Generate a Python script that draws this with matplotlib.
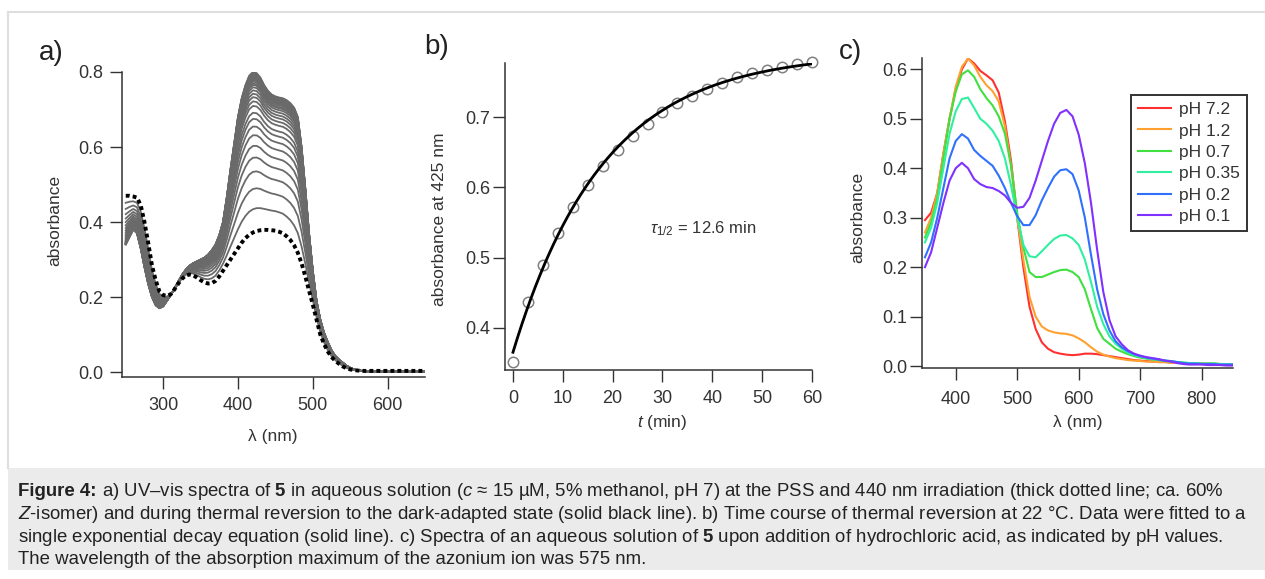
import numpy as np
import matplotlib
matplotlib.use('Agg')
import matplotlib.pyplot as plt
from matplotlib.lines import Line2D
from matplotlib.patches import Rectangle
from matplotlib.ticker import FormatStrFormatter

plt.rcParams['font.family'] = ['Liberation Sans', 'DejaVu Sans']
plt.rcParams['mathtext.fontset'] = 'custom'
plt.rcParams['mathtext.rm'] = 'Liberation Sans'
plt.rcParams['mathtext.it'] = 'Liberation Sans:italic'
plt.rcParams['mathtext.bf'] = 'Liberation Sans:bold'

# ---- panel a: spectra during thermal reversion ----
wl_a = np.arange(250, 651, 5)
# dark-adapted (final) spectrum, top grey curve
spec_final = [0.34, 0.36, 0.38, 0.37, 0.33, 0.28, 0.235, 0.20, 0.178, 0.17,
              0.175, 0.19, 0.205, 0.222, 0.24, 0.258, 0.272, 0.283, 0.29, 0.295,
              0.30, 0.305, 0.313, 0.325, 0.34, 0.365, 0.40, 0.465, 0.54, 0.61,
              0.68, 0.73, 0.765, 0.79, 0.80, 0.797, 0.785, 0.765, 0.75, 0.74,
              0.735, 0.732, 0.73, 0.725, 0.717, 0.705, 0.68, 0.60, 0.49, 0.37,
              0.27, 0.19, 0.14, 0.105, 0.08, 0.058, 0.043, 0.033, 0.025, 0.017,
              0.011, 0.007, 0.004, 0.003, 0.002, 0.002, 0.001, 0.001, 0.001, 0.001,
              0.001, 0.001, 0.001, 0.001, 0.001, 0.001, 0.001, 0.001, 0.001, 0.001,
              0.001]
# PSS after 440 nm irradiation (dotted)
spec_pss = [0.47, 0.47, 0.468, 0.465, 0.445, 0.40, 0.345, 0.285, 0.245, 0.215,
            0.205, 0.203, 0.207, 0.22, 0.235, 0.248, 0.257, 0.26, 0.258, 0.252,
            0.245, 0.239, 0.236, 0.237, 0.243, 0.255, 0.27, 0.285, 0.30, 0.315,
            0.33, 0.345, 0.357, 0.366, 0.372, 0.376, 0.378, 0.379, 0.379, 0.378,
            0.377, 0.374, 0.37, 0.362, 0.352, 0.338, 0.318, 0.29, 0.255, 0.217,
            0.18, 0.14, 0.10, 0.075, 0.055, 0.04, 0.03, 0.022, 0.015, 0.01,
            0.007, 0.005, 0.004, 0.003, 0.003, 0.003, 0.003, 0.003, 0.003, 0.003,
            0.003, 0.003, 0.003, 0.003, 0.003, 0.003, 0.003, 0.003, 0.003, 0.003,
            0.003]
# absorbance at 425 nm of each recorded spectrum
a_scans_425 = [0.437, 0.49, 0.535, 0.572, 0.603, 0.631, 0.654, 0.674, 0.69, 0.708,
               0.72, 0.731, 0.74, 0.749, 0.757, 0.763, 0.767, 0.772, 0.776, 0.779,
               0.782, 0.784, 0.786, 0.788, 0.790, 0.791, 0.793, 0.794, 0.795, 0.797]

# ---- panel b: kinetics ----
t_min = [0, 3, 6, 9, 12, 15, 18, 21, 24, 27, 30, 33, 36, 39, 42, 45, 48, 51, 54, 57, 60]
abs_425 = [0.351, 0.437, 0.490, 0.535, 0.572, 0.603, 0.631, 0.654, 0.674, 0.690,
           0.708, 0.720, 0.731, 0.740, 0.749, 0.757, 0.763, 0.767, 0.772, 0.776, 0.779]
fit_a0, fit_ainf, t_half = 0.365, 0.792, 12.6

# ---- panel c: pH series ----
wl_c = np.arange(350, 851, 10)
ph_labels = ['pH 7.2', 'pH 1.2', 'pH 0.7', 'pH 0.35', 'pH 0.2', 'pH 0.1']
ph_colors = ['#ff3030', '#ffa030', '#40e040', '#30f0a0', '#3070ff', '#8030ff']
spec_ph = [
    [0.295, 0.31, 0.35, 0.43, 0.50, 0.56, 0.60, 0.622, 0.612, 0.597,
     0.588, 0.578, 0.553, 0.495, 0.415, 0.30, 0.20, 0.12, 0.075, 0.048,
     0.035, 0.028, 0.025, 0.023, 0.022, 0.023, 0.025, 0.025, 0.024, 0.022,
     0.02, 0.018, 0.016, 0.014, 0.012, 0.011, 0.01, 0.009, 0.008, 0.008,
     0.007, 0.007, 0.006, 0.006, 0.005, 0.005, 0.005, 0.004, 0.004, 0.004, 0.004],
    [0.27, 0.30, 0.35, 0.43, 0.50, 0.565, 0.605, 0.622, 0.608, 0.585,
     0.568, 0.556, 0.535, 0.485, 0.405, 0.30, 0.215, 0.14, 0.10, 0.08,
     0.072, 0.068, 0.066, 0.065, 0.062, 0.056, 0.048, 0.038, 0.029, 0.023,
     0.019, 0.016, 0.014, 0.012, 0.011, 0.01, 0.009, 0.009, 0.008, 0.008,
     0.007, 0.007, 0.006, 0.006, 0.005, 0.005, 0.005, 0.005, 0.004, 0.004, 0.004],
    [0.26, 0.29, 0.34, 0.42, 0.50, 0.555, 0.59, 0.598, 0.585, 0.56,
     0.542, 0.527, 0.505, 0.47, 0.405, 0.31, 0.24, 0.19, 0.18, 0.18,
     0.185, 0.19, 0.194, 0.195, 0.19, 0.18, 0.155, 0.115, 0.077, 0.055,
     0.045, 0.035, 0.029, 0.024, 0.02, 0.017, 0.015, 0.013, 0.012, 0.01,
     0.009, 0.008, 0.007, 0.006, 0.006, 0.005, 0.005, 0.005, 0.004, 0.004, 0.004],
    [0.25, 0.28, 0.33, 0.40, 0.47, 0.515, 0.54, 0.543, 0.522, 0.50,
     0.49, 0.476, 0.455, 0.42, 0.365, 0.30, 0.245, 0.222, 0.22, 0.232,
     0.245, 0.257, 0.264, 0.265, 0.258, 0.245, 0.215, 0.17, 0.12, 0.085,
     0.06, 0.045, 0.035, 0.027, 0.022, 0.019, 0.016, 0.014, 0.013, 0.011,
     0.01, 0.008, 0.007, 0.006, 0.006, 0.005, 0.005, 0.005, 0.004, 0.004, 0.004],
    [0.22, 0.25, 0.30, 0.36, 0.42, 0.455, 0.469, 0.46, 0.437, 0.425,
     0.415, 0.405, 0.385, 0.36, 0.33, 0.303, 0.285, 0.285, 0.305, 0.335,
     0.36, 0.383, 0.396, 0.398, 0.388, 0.355, 0.30, 0.225, 0.155, 0.105,
     0.072, 0.05, 0.038, 0.03, 0.024, 0.02, 0.017, 0.015, 0.013, 0.011,
     0.01, 0.008, 0.006, 0.005, 0.005, 0.004, 0.004, 0.004, 0.003, 0.003, 0.003],
    [0.20, 0.23, 0.28, 0.33, 0.375, 0.40, 0.411, 0.40, 0.378, 0.368,
     0.362, 0.36, 0.354, 0.345, 0.33, 0.32, 0.322, 0.34, 0.375, 0.415,
     0.455, 0.49, 0.512, 0.518, 0.505, 0.468, 0.41, 0.33, 0.235, 0.15,
     0.093, 0.06, 0.044, 0.032, 0.025, 0.021, 0.018, 0.016, 0.014, 0.011,
     0.009, 0.006, 0.004, 0.003, 0.003, 0.003, 0.002, 0.002, 0.002, 0.001, 0.001],
]

W, H = 1265, 579
AX = '#333333'


def fx(px):
    return px / W


def fy(py):
    return 1 - py / H


def style(ax, xpad, ypad):
    for s in ['top', 'right']:
        ax.spines[s].set_visible(False)
    for s in ['left', 'bottom']:
        ax.spines[s].set_color(AX)
        ax.spines[s].set_linewidth(1.1)
    ax.tick_params(direction='out', length=8.5, width=1.0, color=AX,
                   labelcolor=AX, labelsize=13)
    ax.tick_params(axis='x', pad=xpad)
    ax.tick_params(axis='y', pad=ypad)
    ax.patch.set_alpha(0)


fig = plt.figure(figsize=(W / 100, H / 100), dpi=100)

# frame and caption box
fig.add_artist(Line2D([fx(8), 1], [fy(12), fy(12)], color='#dedede', lw=1.5))
fig.add_artist(Line2D([fx(8), fx(8)], [fy(12), fy(468)], color='#dedede', lw=1.5))
fig.add_artist(Rectangle((fx(8), fy(570)), 1 - fx(8), fy(468) - fy(570),
                         facecolor='#ebebeb', edgecolor='none'))

# panel a
ax1 = fig.add_axes([fx(122), fy(377), 303 / W, 305 / H])
pss = np.array(spec_pss)
fin = np.array(spec_final)
i425 = list(wl_a).index(425)
for p in a_scans_425:
    frac = (p - pss[i425]) / (fin[i425] - pss[i425])
    ax1.plot(wl_a, pss + frac * (fin - pss), color='#6a6a6a', lw=1.3)
ax1.plot(wl_a, pss, color='black', lw=2.8, ls=(0, (1, 0.8)))
ax1.set_xlim(245, 650)
ax1.set_ylim(-0.0133, 0.8)
ax1.set_xticks([300, 400, 500, 600])
ax1.set_yticks([0.0, 0.2, 0.4, 0.6, 0.8])
ax1.yaxis.set_major_formatter(FormatStrFormatter('%.1f'))
style(ax1, 6, 5)

# panel b
ax2 = fig.add_axes([fx(505), fy(370), 307 / W, 307 / H])
tt = np.linspace(0, 60, 200)
k = np.log(2) / t_half
ax2.plot(tt, fit_ainf - (fit_ainf - fit_a0) * np.exp(-k * tt), color='black', lw=2.0, zorder=3)
ax2.plot(t_min, abs_425, ls='none', marker='o', ms=7.5, mfc='none', mec='#808080',
         mew=1.1, clip_on=False, zorder=2)
ax2.set_xlim(-1.6, 60)
ax2.set_ylim(0.3397, 0.7775)
ax2.set_xticks(range(0, 61, 10))
ax2.set_yticks([0.4, 0.5, 0.6, 0.7])
ax2.yaxis.set_major_formatter(FormatStrFormatter('%.1f'))
style(ax2, 6, 2)
ax2.text(0.472, 0.459, r'$\tau_{1/2}$ = 12.6 min', transform=ax2.transAxes,
         fontsize=12, color=AX, ha='left', va='center')

# panel c
ax3 = fig.add_axes([fx(922), fy(368), 311 / W, 310 / H])
for lab, col, sp in zip(ph_labels, ph_colors, spec_ph):
    ax3.plot(wl_c, sp, color=col, lw=1.5, label=lab)
ax3.set_xlim(345.2, 850.9)
ax3.set_ylim(-0.004, 0.623)
ax3.set_xticks([400, 500, 600, 700, 800])
ax3.set_yticks([0.0, 0.1, 0.2, 0.3, 0.4, 0.5, 0.6])
ax3.yaxis.set_major_formatter(FormatStrFormatter('%.1f'))
style(ax3, 8, 2)
leg = ax3.legend(loc='upper left', bbox_to_anchor=(0.672, 0.8806), borderaxespad=0,
                 fontsize=12.5, handlelength=1.9, handletextpad=0.45,
                 labelspacing=0.36, borderpad=0.4, fancybox=False, framealpha=1)
leg.get_frame().set_edgecolor(AX)
leg.get_frame().set_linewidth(1.4)
for t in leg.get_texts():
    t.set_color(AX)

# axis labels and panel letters
lab_kw = dict(fontsize=12.5, color=AX, ha='center', va='center')
fig.text(fx(55), fy(220), 'absorbance', rotation=90, **lab_kw)
fig.text(fx(273), fy(436), 'λ (nm)', **lab_kw)
fig.text(fx(440), fy(219), 'absorbance at 425 nm', rotation=90, **lab_kw)
fig.text(fx(662), fy(423), r'$\mathit{t}$ (min)', **lab_kw)
fig.text(fx(858), fy(217), 'absorbance', rotation=90, **lab_kw)
fig.text(fx(1078), fy(423), 'λ (nm)', **lab_kw)
for s, x, y in [('a)', 51, 53), ('b)', 437, 47), ('c)', 851, 52)]:
    fig.text(fx(x), fy(y), s, fontsize=20, color='#222222', ha='center', va='center')

# caption
cap_size = 13.4
cap_col = '#222222'
caption = [
    r'a) UV–vis spectra of $\mathbf{5}$ in aqueous solution ($\mathit{c}$ ≈ 15 µM, 5% methanol, pH 7) at the PSS and 440 nm irradiation (thick dotted line; ca. 60%',
    r'$\mathit{Z}$-isomer) and during thermal reversion to the dark-adapted state (solid black line). b) Time course of thermal reversion at 22 °C. Data were fitted to a',
    r'single exponential decay equation (solid line). c) Spectra of an aqueous solution of $\mathbf{5}$ upon addition of hydrochloric acid, as indicated by pH values.',
    'The wavelength of the absorption maximum of the azonium ion was 575 nm.',
]
head = fig.text(fx(18), fy(492), 'Figure 4:', fontsize=cap_size, fontweight='bold',
                color=cap_col, ha='left', va='center')
renderer = fig.canvas.get_renderer()
x_after = head.get_window_extent(renderer=renderer).x1 + 0.28 * cap_size * 100 / 72
for i, line in enumerate(caption):
    x0 = x_after / W if i == 0 else fx(18)
    fig.text(x0, fy(492 + 22.6 * i), line, fontsize=cap_size, color=cap_col,
             ha='left', va='center')

fig.savefig('out.png', dpi=100)
